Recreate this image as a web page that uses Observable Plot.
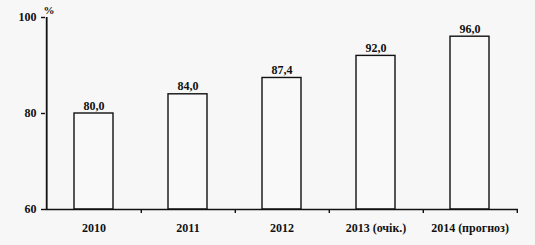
<!DOCTYPE html>
<html><head><meta charset="utf-8">
<script src="https://cdn.jsdelivr.net/npm/d3@7"></script>
<script src="https://cdn.jsdelivr.net/npm/@observablehq/plot@0.6"></script>
<style>
html,body{margin:0;padding:0;background:#f7f7f7;}
#chart svg{display:block;background:#f7f7f7;}
</style>
</head><body><div id="chart"></div>
<script>
const categories = ["2010", "2011", "2012", "2013 (очік.)", "2014 (прогноз)"];
const values = [80.0, 84.0, 87.4, 92.0, 96.0];
const valueLabels = ["80,0", "84,0", "87,4", "92,0", "96,0"];
const yTicks = [60, 80, 100];
const unitLabel = "%";

const data = categories.map((c, i) => ({cat: c, v: values[i], lab: valueLabels[i]}));
const serif = "Liberation Serif";
const W = 535, H = 245, mL = 45, mR = 17, mT = 17, mB = 36;
const step = (W - mL - mR) / categories.length;
const ink = "#111";

const chart = Plot.plot({
  width: W, height: H,
  marginLeft: mL, marginRight: mR, marginTop: mT, marginBottom: mB,
  x: {domain: categories, paddingInner: 0.58, paddingOuter: 0.29, label: null, axis: null},
  y: {domain: [yTicks[0], yTicks[yTicks.length - 1]], label: null, axis: null},
  marks: [
    Plot.barY(data, {x: "cat", y1: yTicks[0], y2: "v", fill: "#f9f9f9", stroke: ink, strokeWidth: 1.4}),
    Plot.ruleY([yTicks[0]], {stroke: ink, strokeWidth: 1.6}),
    Plot.ruleX([categories[0]], {dx: -step / 2, y1: yTicks[0], y2: yTicks[yTicks.length - 1], stroke: ink, strokeWidth: 1.8}),
    Plot.text(data, {x: "cat", y: "v", text: "lab", lineAnchor: "bottom", dy: -4, fontSize: 12, fontWeight: "bold", fontFamily: serif, fill: ink}),
    Plot.axisY({ticks: yTicks, tickSize: 4, tickPadding: 5, fontSize: 12, fontWeight: "bold", fontFamily: serif, label: null, stroke: ink, strokeWidth: 1.4, fill: ink}),
    Plot.axisX({tickSize: 0, tickPadding: 14, fontSize: 12, fontWeight: "bold", fontFamily: serif, label: null, fill: ink}),
    Plot.axisX({tickSize: 4, text: null, dx: step / 2, label: null, stroke: ink, strokeWidth: 1.4}),
    Plot.text([unitLabel], {frameAnchor: "top-left", dx: -2, dy: -11, fontSize: 11, fontWeight: "bold", fontFamily: serif, fill: ink})
  ]
});
document.getElementById("chart").appendChild(chart);
</script>
</body></html>
